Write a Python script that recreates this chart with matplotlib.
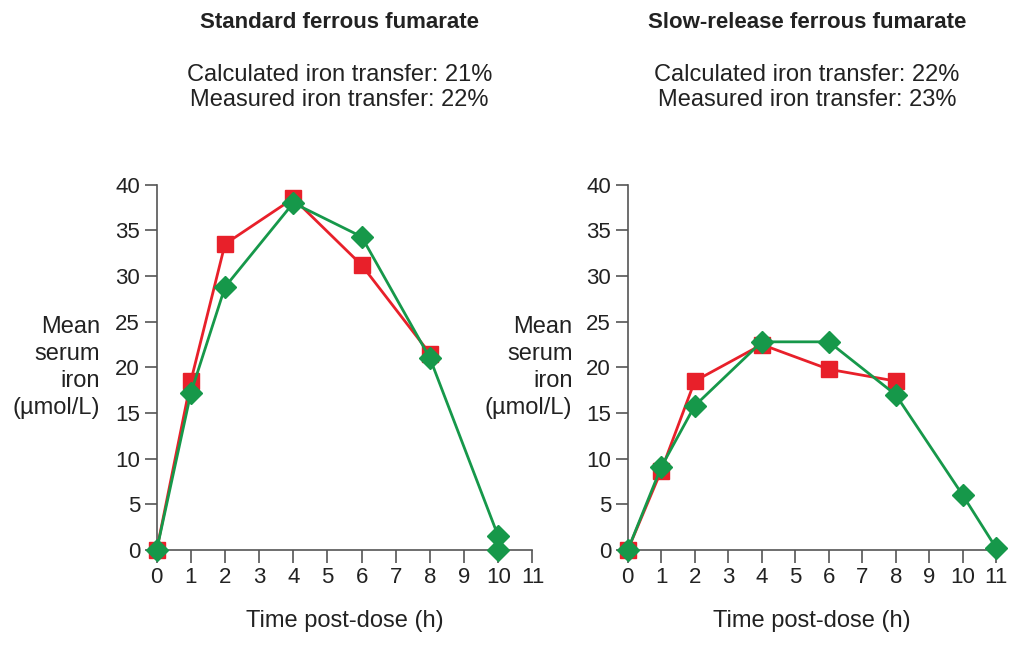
import matplotlib
matplotlib.use("Agg")
import matplotlib.pyplot as plt

plt.rcParams["font.family"] = ["Liberation Sans", "DejaVu Sans"]

RED = "#e8202a"; GREEN = "#16984a"; TXT = "#222222"; AX = "#555555"

# Standard ferrous fumarate
std_red_t = [0, 1, 2, 4, 6, 8]
std_red_v = [0, 18.5, 33.5, 38.5, 31.2, 21.5]
std_grn_t = [0, 1, 2, 4, 6, 8, 10]
std_grn_v = [0, 17.2, 28.8, 38.0, 34.3, 21.0, 1.5]
std_extra_t = [10]
std_extra_v = [0]

# Slow-release ferrous fumarate
sr_red_t = [0, 1, 2, 4, 6, 8]
sr_red_v = [0, 8.7, 18.5, 22.5, 19.8, 18.5]
sr_grn_t = [0, 1, 2, 4, 6, 8, 10, 11]
sr_grn_v = [0, 9.1, 15.8, 22.8, 22.8, 17.0, 6.0, 0.2]

titles = ["Standard ferrous fumarate", "Slow-release ferrous fumarate"]
subs = ["Calculated iron transfer: 21%\nMeasured iron transfer: 22%",
        "Calculated iron transfer: 22%\nMeasured iron transfer: 23%"]

fig = plt.figure(figsize=(10.24, 6.48), dpi=100)
axes = [fig.add_axes([0.153, 0.151, 0.367, 0.564]),
        fig.add_axes([0.613, 0.151, 0.360, 0.564])]
series = [(std_red_t, std_red_v, std_grn_t, std_grn_v),
          (sr_red_t, sr_red_v, sr_grn_t, sr_grn_v)]

for i, (ax, (rt, rv, gt, gv)) in enumerate(zip(axes, series)):
    ax.plot(rt, rv, color=RED, lw=2, marker="s", ms=11, zorder=3, clip_on=False)
    ax.plot(gt, gv, color=GREEN, lw=2, marker="D", ms=11, zorder=4, clip_on=False)
    if i == 0:
        ax.plot(std_extra_t, std_extra_v, ls="none", color=GREEN, marker="D", ms=11,
                zorder=4, clip_on=False)
    ax.set_xlim(0, 11); ax.set_ylim(0, 40)
    ax.set_xticks(range(12)); ax.set_yticks(range(0, 41, 5))
    for s in ["top", "right"]:
        ax.spines[s].set_visible(False)
    for s in ["left", "bottom"]:
        ax.spines[s].set_color(AX); ax.spines[s].set_linewidth(1.2)
    ax.tick_params(colors=AX, labelcolor=TXT, labelsize=16, length=9, width=1.2, pad=3)
    ax.set_xlabel("Time post-dose (h)", fontsize=17, color=TXT, labelpad=16)
    ax.text(-0.15, 0.5, "Mean\nserum\niron\n(µmol/L)", transform=ax.transAxes,
            ha="right", va="center", fontsize=17, color=TXT, linespacing=1.3)
    cx = (ax.get_position().x0 + ax.get_position().x1) / 2 - 0.005
    fig.text(cx, 0.965, titles[i], ha="center", va="center", fontsize=16,
             fontweight="bold", color=TXT)
    fig.text(cx, 0.865, subs[i], ha="center", va="center", fontsize=17,
             color=TXT, linespacing=1.2)

fig.savefig("out.png", dpi=100)
